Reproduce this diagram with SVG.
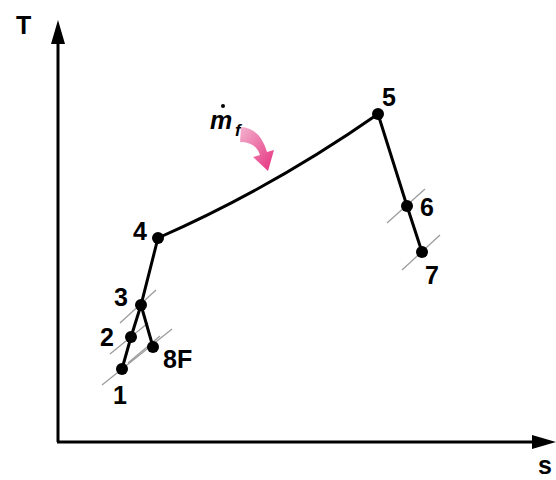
<svg xmlns="http://www.w3.org/2000/svg" width="556" height="480" viewBox="0 0 556 480">
<defs>
<style>
.ax{stroke:#000;stroke-width:3;fill:none}
.ln{stroke:#000;stroke-width:3;fill:none;stroke-linecap:round}
.h{stroke:#9a9a9a;stroke-width:1.2;fill:none}
.pt{fill:#000}
.lb{font-family:"Liberation Sans",Arial,sans-serif;font-weight:bold;font-size:25px;fill:#000}
</style>
<linearGradient id="pk" x1="0" y1="0" x2="1" y2="1">
<stop offset="0" stop-color="#f2b3cf"/>
<stop offset="1" stop-color="#e6307e"/>
</linearGradient>
</defs>
<g id="axes">
<line class="ax" x1="58" y1="442" x2="58" y2="40"/>
<polygon points="58,20 51,44 65,44" fill="#000"/>
<line class="ax" x1="57" y1="442" x2="536" y2="442"/>
<polygon points="556,442 532,435 532,449" fill="#000"/>
<text class="lb" x="16" y="34">T</text>
<text class="lb" x="538" y="474">s</text>
</g>
<g id="hatches">
<line class="h" x1="102" y1="385" x2="172" y2="329"/>
<line class="h" x1="128" y1="363" x2="160" y2="336"/>
<line class="h" x1="110" y1="354" x2="148" y2="323"/>
<line class="h" x1="120" y1="323" x2="156" y2="290"/>
<line class="h" x1="387" y1="223" x2="425" y2="189"/>
<line class="h" x1="402" y1="270" x2="440" y2="235"/>
</g>
<g id="connectors">
<path class="ln" d="M122,369 L131,337 L141,305 L158,238"/>
<path class="ln" d="M141,305 L153,347"/>
<path class="ln" d="M158,238 Q272,188 378,114"/>
<path class="ln" d="M378,114 L407,206 L422,252"/>
</g>
<g id="n1"><circle class="pt" cx="122" cy="369" r="6"/><text class="lb" x="113" y="404">1</text></g>
<g id="n2"><circle class="pt" cx="131" cy="337" r="6"/><text class="lb" x="100" y="346">2</text></g>
<g id="n3"><circle class="pt" cx="141" cy="305" r="6"/><text class="lb" x="114" y="306">3</text></g>
<g id="n8F"><circle class="pt" cx="153" cy="347" r="6"/><text class="lb" x="163" y="368">8F</text></g>
<g id="n4"><circle class="pt" cx="158" cy="238" r="6"/><text class="lb" x="133" y="240">4</text></g>
<g id="n5"><circle class="pt" cx="378" cy="114" r="6"/><text class="lb" x="382" y="106">5</text></g>
<g id="n6"><circle class="pt" cx="407" cy="206" r="6"/><text class="lb" x="420" y="216">6</text></g>
<g id="n7"><circle class="pt" cx="422" cy="252" r="6"/><text class="lb" x="425" y="284">7</text></g>
<g id="mf">
<text x="210" y="129" font-family="Liberation Sans,Arial,sans-serif" font-weight="bold" font-style="italic" font-size="25" fill="#000">m</text>
<circle cx="223" cy="106" r="2" fill="#000"/>
<text x="235" y="136" font-family="Liberation Sans,Arial,sans-serif" font-weight="bold" font-style="italic" font-size="17" fill="#000">f</text>
<path d="M240,142 Q256,142 260,155 L253,157 L268,171 L274,150 L267,152 Q260,128 241,127 Z" fill="url(#pk)"/>
</g>
</svg>
